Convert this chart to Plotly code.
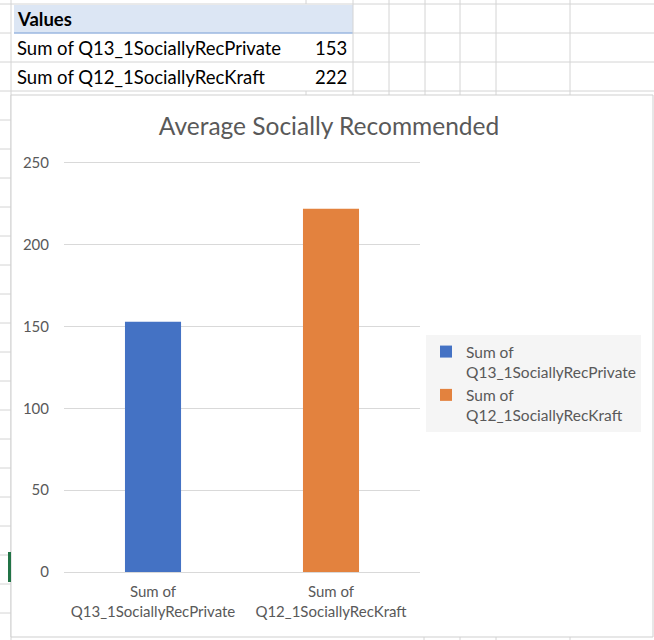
import plotly.graph_objects as go

W, H = 654, 640

# ---- data ----
categories = ["Sum of Q13_1SociallyRecPrivate", "Sum of Q12_1SociallyRecKraft"]
values = [153, 222]
tick_labels = ["Sum of<br>Q13_1SociallyRecPrivate", "Sum of<br>Q12_1SociallyRecKraft"]
bar_colors = ["#4472c4", "#e3823e"]
y_ticks = [0, 50, 100, 150, 200, 250]
title_text = "Average Socially Recommended"
table_header = "Values"

FONT = "Lato"
GREY_TXT = "#595959"
GRID = "#d9d9d9"
CELL = "#d4d4d4"


def px(x):
    return x / W


def py(y):
    return 1 - y / H


fig = go.Figure()
for cat, val, lab, col in zip(categories, values, tick_labels, bar_colors):
    fig.add_trace(go.Bar(x=[cat], y=[val], name=lab, width=0.315,
                         marker=dict(color=col, line=dict(width=0))))

shapes = []


def line(x0, y0, x1, y1, color=CELL, width=1, layer="below"):
    shapes.append(dict(type="line", xref="paper", yref="paper",
                       x0=px(x0), y0=py(y0), x1=px(x1), y1=py(y1),
                       line=dict(color=color, width=width), layer=layer))


def rect(x0, y0, x1, y1, fill, lc=None, lw=0, layer="below"):
    shapes.append(dict(type="rect", xref="paper", yref="paper",
                       x0=px(x0), y0=py(y0), x1=px(x1), y1=py(y1),
                       fillcolor=fill, line=dict(color=lc or fill, width=lw), layer=layer))


# spreadsheet grid above chart
rect(14, 5, 353, 33, "#dce6f4")
line(14, 33, 353, 33, color="#9bb7e0", width=1.5)
line(11, 4, 654, 4)
line(353, 33, 654, 33)
line(11, 62, 654, 62)
line(11, 91, 654, 91)
for xv in [353, 389, 425, 460, 496, 570]:
    line(xv, 0, xv, 95)
line(306, 0, 306, 4)
line(306, 91, 306, 95)
line(11, 0, 11, 640)
# row markers on the left edge
for k in range(22):
    yv = 4 + 29 * k
    line(0, yv, 11, yv)
# below chart
for xv in [424, 460, 496, 570]:
    line(xv, 637, xv, 640)

# chart area
rect(11, 95, 653, 637, "white", lc="#cfcfcf", lw=1)
# selected-cell green marker
rect(8, 552, 11, 582, "#217346", layer="above")

TABLE_FS = 18.5
annotations = [
    dict(text="<b>%s</b>" % table_header, x=px(15), y=py(19), xref="paper", yref="paper",
         xanchor="left", yanchor="middle", showarrow=False,
         font=dict(family=FONT, size=TABLE_FS, color="#000000")),
]
row_y = [48, 77]
for cat, val, ry in zip(categories, values, row_y):
    annotations.append(dict(text=cat, x=px(15), y=py(ry), xref="paper", yref="paper",
                            xanchor="left", yanchor="middle", showarrow=False,
                            font=dict(family=FONT, size=TABLE_FS, color="#000000")))
    annotations.append(dict(text=str(val), x=px(349), y=py(ry), xref="paper", yref="paper",
                            xanchor="right", yanchor="middle", showarrow=False,
                            font=dict(family=FONT, size=TABLE_FS, color="#000000")))

# y range padded slightly so the 250 gridline is drawn; domain adjusted to keep scale
Y_MAX = 252
y0_px, y250_px = 572, 163
ytop_px = y0_px - (y0_px - y250_px) * Y_MAX / 250

fig.update_layout(
    width=W, height=H,
    margin=dict(l=0, r=0, t=0, b=0, autoexpand=False),
    paper_bgcolor="white",
    plot_bgcolor="rgba(0,0,0,0)",
    barmode="overlay",
    font=dict(family=FONT, color=GREY_TXT),
    title=dict(text=title_text, x=px(329), y=py(126), xref="paper", yref="paper",
               xanchor="center", yanchor="middle",
               font=dict(family=FONT, size=24.5, color=GREY_TXT)),
    xaxis=dict(domain=[px(64), px(420)], categoryorder="array", categoryarray=categories,
               tickvals=categories, ticktext=tick_labels, automargin=False,
               showline=True, linecolor=GRID, linewidth=1, showgrid=False,
               ticks="", ticklabelstandoff=6,
               tickfont=dict(family=FONT, size=15, color=GREY_TXT)),
    yaxis=dict(domain=[1 - y0_px / H, 1 - ytop_px / H], range=[0, Y_MAX], tickvals=y_ticks,
               automargin=False,
               showgrid=True, gridcolor=GRID, gridwidth=1, zeroline=False,
               showline=False, ticks="", ticklabelstandoff=14,
               tickfont=dict(family=FONT, size=15, color=GREY_TXT)),
    legend=dict(x=px(426), y=py(335), xanchor="left", yanchor="top",
                bgcolor="#f5f5f5", borderwidth=0, valign="top",
                font=dict(family=FONT, size=15.5, color=GREY_TXT),
                tracegroupgap=0),
    shapes=shapes,
    annotations=annotations,
)

fig.write_html("out.html")
